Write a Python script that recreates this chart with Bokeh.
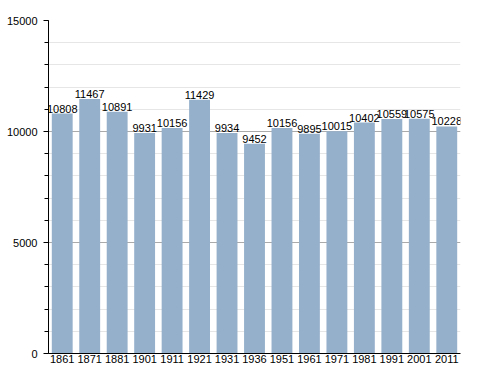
from bokeh.plotting import figure
from bokeh.models import FactorRange, Range1d, SingleIntervalTicker, ColumnDataSource
from bokeh.core.properties import value
from bokeh.embed import file_html
from bokeh.resources import INLINE

years = ["1861", "1871", "1881", "1901", "1911", "1921", "1931", "1936",
         "1951", "1961", "1971", "1981", "1991", "2001", "2011"]
population = [10808, 11467, 10891, 9931, 10156, 11429, 9934, 9452,
              10156, 9895, 10015, 10402, 10559, 10575, 10228]

src = ColumnDataSource(dict(x=years, y=population, lbl=[str(v) for v in population]))

p = figure(width=472, height=366, output_backend="svg", toolbar_location=None,
           x_range=FactorRange(*years, range_padding=0), y_range=Range1d(0, 15000),
           min_border_left=48, min_border_right=12, min_border_top=20, min_border_bottom=13)
p.outline_line_color = None
p.background_fill_color = "white"

p.vbar(x="x", top="y", width=0.76, source=src, fill_color="#95b0cb", line_color=None)
p.text(x="x", y="y", text="lbl", source=src, text_align="center", text_baseline="bottom",
       y_offset=-1, text_font=value("Liberation Sans"), text_font_size="11px", text_color="black")

p.yaxis.ticker = SingleIntervalTicker(interval=5000, num_minor_ticks=5)
p.ygrid.ticker = p.yaxis.ticker
p.ygrid.grid_line_color = "#aaaaaa"
p.ygrid.minor_grid_line_color = "#e6e6e6"
p.xgrid.grid_line_color = None

for ax in (p.xaxis, p.yaxis):
    ax.axis_line_color = "black"
    ax.major_label_text_font = "Liberation Sans"
    ax.major_label_text_font_size = "11px"
    ax.major_label_text_color = "black"

p.yaxis.major_tick_in = 0
p.yaxis.major_tick_out = 5
p.yaxis.minor_tick_in = 0
p.yaxis.minor_tick_out = 4
p.yaxis.major_tick_line_color = "black"
p.yaxis.minor_tick_line_color = "black"
p.yaxis.major_label_standoff = 6

p.xaxis.major_tick_line_color = None
p.xaxis.minor_tick_line_color = None
p.xaxis.major_tick_in = 0
p.xaxis.major_tick_out = 0
p.xaxis.major_label_standoff = 1
p.xaxis.group_text_font_size = "0px"

open("out.html", "w").write(file_html(p, INLINE))
